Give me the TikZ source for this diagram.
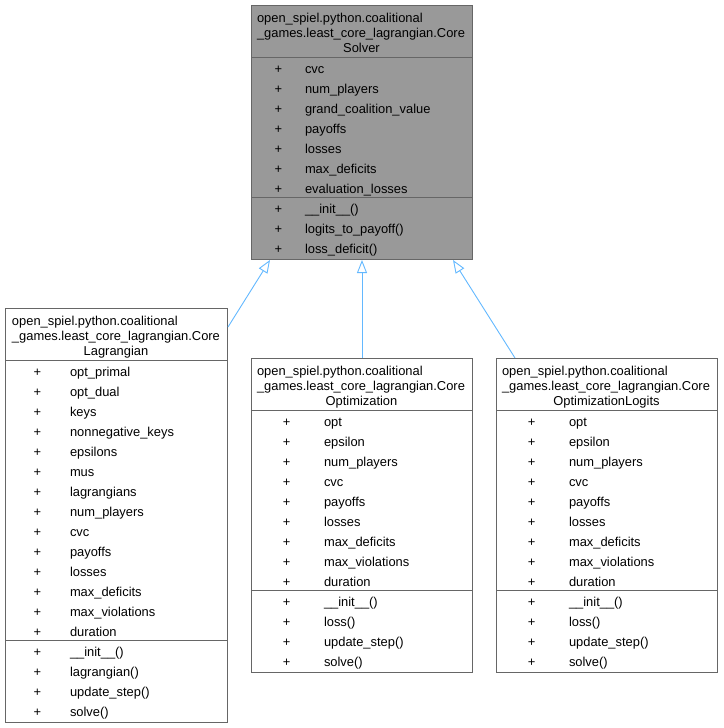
\documentclass[tikz,border=0pt]{standalone}
\usepackage{fontspec}
\setmainfont{Liberation Sans}
\usetikzlibrary{arrows.meta}
\definecolor{bordergray}{HTML}{666666}
\definecolor{fillgray}{HTML}{999999}
\definecolor{edgeblue}{HTML}{63B8FF}
\tikzset{
  classbox/.style={draw=bordergray, line width=1pt, fill=white, inner sep=0pt, anchor=north west},
  basebox/.style={classbox, fill=fillgray},
  sepline/.style={draw=bordergray, line width=1pt},
  txt/.style={inner sep=0pt, outer sep=0pt, font=\fontsize{12.9}{15}\selectfont, text=black},
  inherit/.style={draw=edgeblue, line width=0.9pt, -{Triangle[open, length=13pt, width=10pt, line width=0.9pt]}},
}
\begin{document}
\begin{tikzpicture}[x=1pt, y=-1pt]
\useasboundingbox (0,0) rectangle (723,728);

% ---------- CoreSolver ----------
\node[basebox, minimum width=221pt, minimum height=254pt] (solver) at (251,5) {};
\draw[sepline] (251,57) -- (472,57);
\draw[sepline] (251,197) -- (472,197);
\node[txt, anchor=base west] (solver-t1) at (257,22) {open\_spiel.python.coalitional};
\node[txt, anchor=base west] (solver-t2) at (257,37.3) {\_games.least\_core\_lagrangian.Core};
\node[txt, anchor=base] (solver-t3) at (361.5,52.6) {Solver};
\foreach \t [count=\i] in {cvc,num\_players,grand\_coalition\_value,payoffs,losses,max\_deficits,evaluation\_losses,\_\_init\_\_(),logits\_to\_payoff(),loss\_deficit()} {
  \node[txt, anchor=base] (solver-p\i) at (278.3,{57+20*(\i-1)+16}) {+};
  \node[txt, anchor=base west] (solver-n\i) at (305,{57+20*(\i-1)+16}) {\t};
}

% ---------- CoreLagrangian ----------
\node[classbox, minimum width=222pt, minimum height=414pt] (lag) at (5,308) {};
\draw[sepline] (5,360) -- (227,360);
\draw[sepline] (5,640) -- (227,640);
\node[txt, anchor=base west] (lag-t1) at (12,325) {open\_spiel.python.coalitional};
\node[txt, anchor=base west] (lag-t2) at (12,340.3) {\_games.least\_core\_lagrangian.Core};
\node[txt, anchor=base] (lag-t3) at (116,355.6) {Lagrangian};
\foreach \t [count=\i] in {opt\_primal,opt\_dual,keys,nonnegative\_keys,epsilons,mus,lagrangians,num\_players,cvc,payoffs,losses,max\_deficits,max\_violations,duration,\_\_init\_\_(),lagrangian(),update\_step(),solve()} {
  \node[txt, anchor=base] (lag-p\i) at (37.5,{360+20*(\i-1)+16}) {+};
  \node[txt, anchor=base west] (lag-n\i) at (70,{360+20*(\i-1)+16}) {\t};
}

% ---------- CoreOptimization ----------
\node[classbox, minimum width=221pt, minimum height=314pt] (opt) at (251,358) {};
\draw[sepline] (251,410) -- (472,410);
\draw[sepline] (251,590) -- (472,590);
\node[txt, anchor=base west] (opt-t1) at (257,375) {open\_spiel.python.coalitional};
\node[txt, anchor=base west] (opt-t2) at (257,390.3) {\_games.least\_core\_lagrangian.Core};
\node[txt, anchor=base] (opt-t3) at (361.5,405.6) {Optimization};
\foreach \t [count=\i] in {opt,epsilon,num\_players,cvc,payoffs,losses,max\_deficits,max\_violations,duration,\_\_init\_\_(),loss(),update\_step(),solve()} {
  \node[txt, anchor=base] (opt-p\i) at (286.7,{410+20*(\i-1)+16}) {+};
  \node[txt, anchor=base west] (opt-n\i) at (324,{410+20*(\i-1)+16}) {\t};
}

% ---------- CoreOptimizationLogits ----------
\node[classbox, minimum width=221pt, minimum height=314pt] (logits) at (496,358) {};
\draw[sepline] (496,410) -- (717,410);
\draw[sepline] (496,590) -- (717,590);
\node[txt, anchor=base west] (logits-t1) at (502,375) {open\_spiel.python.coalitional};
\node[txt, anchor=base west] (logits-t2) at (502,390.3) {\_games.least\_core\_lagrangian.Core};
\node[txt, anchor=base] (logits-t3) at (606.5,405.6) {OptimizationLogits};
\foreach \t [count=\i] in {opt,epsilon,num\_players,cvc,payoffs,losses,max\_deficits,max\_violations,duration,\_\_init\_\_(),loss(),update\_step(),solve()} {
  \node[txt, anchor=base] (logits-p\i) at (531.7,{410+20*(\i-1)+16}) {+};
  \node[txt, anchor=base west] (logits-n\i) at (569,{410+20*(\i-1)+16}) {\t};
}

% ---------- inheritance ----------
\draw[inherit] ([yshift=-19pt]lag.north east) -- ([xshift=19pt]solver.south west);
\draw[inherit] (opt.north) -- (solver.south);
\draw[inherit] ([xshift=19pt]logits.north west) -- ([xshift=-20pt]solver.south east);
\end{tikzpicture}
\end{document}
